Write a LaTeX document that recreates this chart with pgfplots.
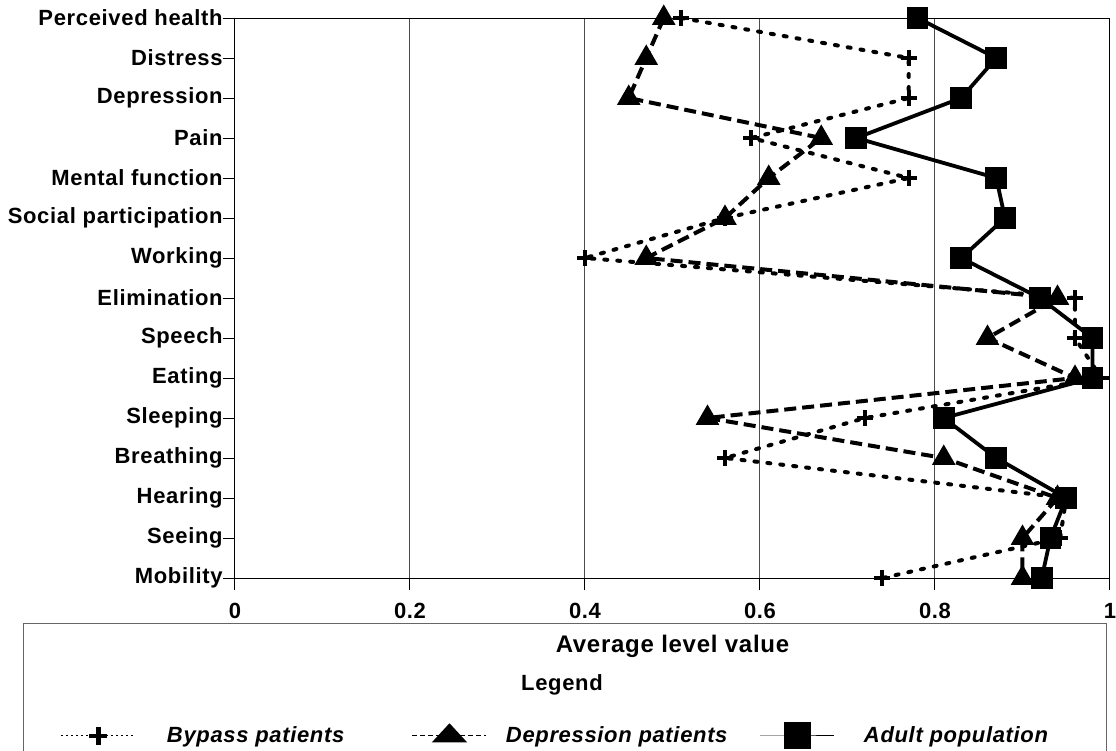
\documentclass[border=0pt]{standalone}
\usepackage{pgfplots}
\pgfplotsset{compat=1.18}
\usepackage{fontspec}
\setmainfont{Liberation Sans}[LetterSpace=3]
\begin{document}
\fontsize{11pt}{13pt}\selectfont\bfseries
\begin{tikzpicture}
\path[use as bounding box] (-117.5pt,-86.5pt) rectangle (440.5pt,289pt);
\begin{axis}[
  at={(0,0)}, anchor=south west,
  scale only axis, width=437.5pt, height=280pt,
  xmin=0, xmax=1, ymin=0, ymax=14,
  xtick={0,0.2,0.4,0.6,0.8,1},
  xticklabels={0,0.2,0.4,0.6,0.8,1},
  ytick={0,1,2,3,4,5,6,7,8,9,10,11,12,13,14},
  yticklabels={Mobility,Seeing,Hearing\hspace{5pt},Breathing,Sleeping,Eating\hspace{3pt},Speech,Elimination,Working\hspace{3pt},Social participation,Mental function,Pain\hspace{3pt},Depression,Distress,Perceived health},
  tick align=outside, major tick length=6pt,
  xtick pos=bottom, ytick pos=left,
  xmajorgrids, grid style={black!70, line width=0.5pt},
  axis line style={line width=0.5pt},
  tick style={black, line width=0.5pt},
  xticklabel style={anchor=center, yshift=-10.5pt, inner sep=0pt},
  yticklabel style={anchor=east, inner sep=0pt, xshift=0pt},
  xlabel={Average level value},
  xlabel style={at={(axis description cs:0.5,-0.1214)}, anchor=center, font=\fontsize{12pt}{14pt}\selectfont\bfseries},
  clip=false,
  legend columns=3,
  legend cell align=left,
  legend style={at={(axis description cs:-0.19886,-0.28214)}, anchor=west,
    draw=none, fill=none, inner sep=0pt, outer sep=0pt, column sep=0pt,
    nodes={inner sep=0pt, outer sep=0pt}, font=\fontsize{11pt}{13pt}\selectfont\bfseries\itshape},
  legend image code/.code={\draw[mark repeat=2,mark phase=2,#1] plot coordinates {(0pt,0pt)(18.5pt,0pt)(37pt,0pt)};},
]
% Bypass patients
\addplot[black, line width=2pt, dash pattern=on 1.5pt off 5pt, line cap=round,
  mark=+, mark size=4pt, mark options={solid, line width=2pt, line cap=butt}, forget plot]
  coordinates {(0.51,14)(0.77,13)(0.77,12)(0.59,11)(0.77,10)(0.56,9)(0.40,8)(0.96,7)(0.96,6)(0.99,5)(0.72,4)(0.56,3)(0.95,2)(0.943,1)(0.74,0)};
% Depression patients
\addplot[black, line width=2pt, dash pattern=on 6pt off 3pt,
  mark=triangle*, mark size=4.8pt, mark options={solid, fill=black}, forget plot]
  coordinates {(0.49,14)(0.47,13)(0.45,12)(0.67,11)(0.61,10)(0.56,9)(0.47,8)(0.94,7)(0.86,6)(0.96,5)(0.54,4)(0.81,3)(0.94,2)(0.90,1)(0.90,0)};
% Adult population
\addplot[black, line width=1.9pt, solid,
  mark=square*, mark size=4.5pt, mark options={solid, fill=black}, forget plot]
  coordinates {(0.78,14)(0.87,13)(0.83,12)(0.71,11)(0.87,10)(0.88,9)(0.83,8)(0.92,7)(0.98,6)(0.98,5)(0.81,4)(0.87,3)(0.95,2)(0.932,1)(0.922,0)};
\addlegendimage{black, line width=0.5pt, dash pattern=on 1pt off 1.5pt, mark=+, mark size=4.5pt, mark options={solid, line width=2.2pt}}
\addlegendentry{\makebox[138pt][l]{\hspace{15.5pt}Bypass patients}}
\addlegendimage{black, line width=0.5pt, dash pattern=on 2.5pt off 1.5pt, mark=triangle*, mark size=6pt, mark options={solid, fill=black, xscale=1.6, yscale=1.0}}
\addlegendentry{\makebox[136.5pt][l]{\hspace{9.5pt}Depression patients}}
\addlegendimage{black, line width=0.5pt, solid, mark=square*, mark size=6.5pt, mark options={solid, fill=black}}
\addlegendentry{\makebox[110pt][l]{\hspace{14.5pt}Adult population}}
\end{axis}
\draw[black!60, line width=0.5pt] (-105.5pt,-86.5pt) -- (-105.5pt,-22.5pt) -- (435.5pt,-22.5pt) -- (435.5pt,-86.5pt);
\node[anchor=center, inner sep=0pt] at (163.5pt,-53.5pt) {Legend};
\end{tikzpicture}
\end{document}
